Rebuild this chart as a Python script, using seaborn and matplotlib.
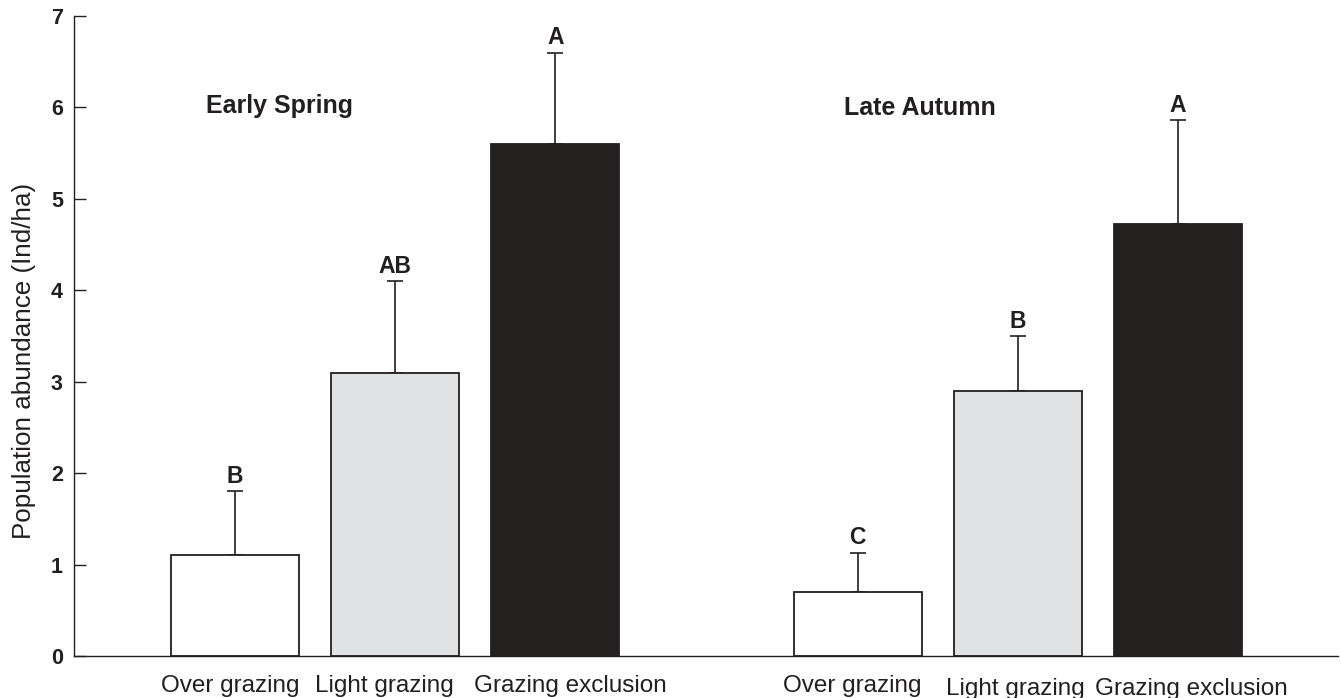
import numpy as np
import pandas as pd
import matplotlib
matplotlib.use("Agg")
import matplotlib.pyplot as plt
import matplotlib.transforms as mtransforms
import seaborn as sns

# ---- data ----
seasons = ["Early Spring", "Late Autumn"]
treatments = ["Over grazing", "Light grazing", "Grazing exclusion"]
spring_means = [1.1, 3.1, 5.6]
spring_err = [0.7, 1.0, 1.0]
autumn_means = [0.7, 2.9, 4.73]
autumn_err = [0.43, 0.6, 1.13]
spring_letters = ["B", "AB", "A"]
autumn_letters = ["C", "B", "A"]
y_ticks = [0, 1, 2, 3, 4, 5, 6, 7]

# ---- layout ----
group_offset = 3.8875
positions = [i + g * group_offset for g in range(2) for i in range(3)]
means = spring_means + autumn_means
errs = spring_err + autumn_err
letters = spring_letters + autumn_letters
label_shift_px = [-5, -11, 15, -5, -2, 14]
label_vshift_px = [0, 0, 0, 0, -3, -3]

df = pd.DataFrame({
    "pos": positions,
    "value": means,
    "treatment": treatments * 2,
    "season": [s for s in seasons for _ in range(3)],
})

ink = "#231f20"
palette = {"Over grazing": "#ffffff", "Light grazing": "#e1e2e4", "Grazing exclusion": ink}

sns.set_style("white")
plt.rcParams["font.family"] = ["Liberation Sans", "DejaVu Sans"]

fig = plt.figure(figsize=(13.41, 6.98), dpi=100)
ax = fig.add_axes([74 / 1341, 1 - 656 / 698, (1338 - 74) / 1341, (656 - 16) / 698])

sns.barplot(data=df, x="pos", y="value", hue="treatment", palette=palette,
            native_scale=True, dodge=False, errorbar=None, legend=False,
            edgecolor=ink, linewidth=1.3, width=0.8, ax=ax, zorder=2)

ax.errorbar(positions, means, yerr=[np.zeros(len(errs)), errs], fmt="none",
            ecolor=ink, elinewidth=1.2, capsize=6, capthick=1.2, zorder=1)

for x, m, e, t in zip(positions, means, errs, letters):
    ax.annotate(t, (x, m + e), xytext=(0, 6), textcoords="offset points",
                ha="center", va="baseline", fontsize=16.5, fontweight="bold", color=ink)

ax.text(0.28, 6.02, seasons[0], ha="center", va="center", fontsize=18,
        fontweight="bold", color=ink)
ax.text(group_offset + 0.39, 5.99, seasons[1], ha="center", va="center", fontsize=18,
        fontweight="bold", color=ink)

ax.set_xlim(-1.006, group_offset + 2 + 1.0)
ax.set_ylim(0, 7)
ax.set_yticks(y_ticks)
ax.set_yticklabels([str(v) for v in y_ticks], fontweight="bold", fontsize=15.5, color=ink)
ax.set_xticks(positions)
ax.set_xticklabels(treatments * 2, fontsize=17.5, color=ink)
ax.tick_params(axis="y", left=True, direction="in", length=8.4, width=1, color=ink, pad=8)
ax.tick_params(axis="x", bottom=False, length=0, pad=14)
for lab, dx, dy in zip(ax.get_xticklabels(), label_shift_px, label_vshift_px):
    lab.set_transform(lab.get_transform() +
                      mtransforms.ScaledTranslation(dx / 100, dy / 100, fig.dpi_scale_trans))
ax.set_xlabel("")
ax.set_ylabel("Population abundance (Ind/ha)", fontsize=18.7, color=ink)
ax.yaxis.set_label_coords(-0.030, 0.461)

for s in ["top", "right"]:
    ax.spines[s].set_visible(False)
for s in ["left", "bottom"]:
    ax.spines[s].set_color(ink)
    ax.spines[s].set_linewidth(1.0)

fig.savefig("out.png", dpi=100)
